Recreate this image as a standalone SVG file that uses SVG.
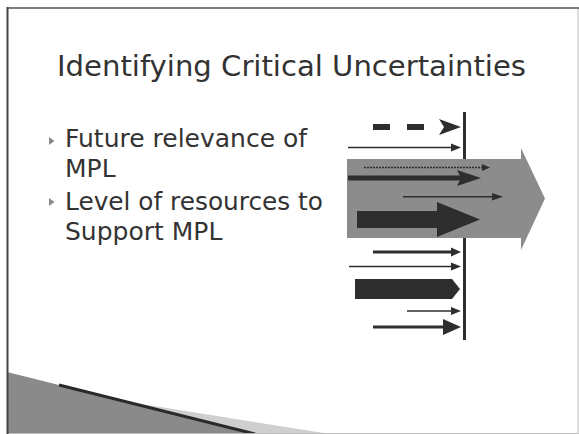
<svg xmlns="http://www.w3.org/2000/svg" width="579" height="434" viewBox="0 0 579 434">
<style>
.t{font-family:"DejaVu Sans","Liberation Sans",sans-serif;fill:#333}
.title{font-size:29px;fill:#333}
.b{font-size:25px}
.dk{fill:#2e2e2e}
.ln{stroke:#2e2e2e;fill:none}
.bul{fill:#8a8a8a}
</style>
<rect width="579" height="434" fill="#fff"/>
<g id="swoosh">
<polygon points="7,372 255,434 7,434" fill="#8a8a8a"/>
<polygon points="110,399 330,434 255,434" fill="#cfcfcf"/>
<line x1="59" y1="385" x2="255" y2="434" stroke="#2a2a2a" stroke-width="3"/>
</g>
<g id="frame">
<line x1="578" y1="8" x2="578" y2="434" stroke="#bbb" stroke-width="1"/>
<line x1="7" y1="433.5" x2="579" y2="433.5" stroke="#bbb" stroke-width="1"/>
<line x1="7" y1="8" x2="579" y2="8" stroke="#555" stroke-width="1.5"/>
<line x1="7.5" y1="7" x2="7.5" y2="434" stroke="#444" stroke-width="2"/>
</g>
<g id="title">
<text class="t title" x="57" y="76" textLength="469" lengthAdjust="spacingAndGlyphs">Identifying Critical Uncertainties</text>
</g>
<g id="bullets">
<polygon class="bul" points="49,137 54.5,141 49,145"/>
<text class="t b" x="65" y="147">Future relevance of</text>
<text class="t b" x="65" y="177">MPL</text>
<polygon class="bul" points="49,198 54.5,202 49,206"/>
<text class="t b" x="65" y="210" textLength="258" lengthAdjust="spacingAndGlyphs">Level of resources to</text>
<text class="t b" x="65" y="240">Support MPL</text>
</g>
<g id="arrows">
<line class="ln" x1="464.5" y1="112" x2="464.5" y2="340" stroke-width="3"/>
<rect class="dk" x="373" y="124" width="17" height="6"/>
<rect class="dk" x="407" y="124" width="17" height="6"/>
<polygon class="dk" points="439,119 461,127 439,135 444,127"/>
<line class="ln" x1="348" y1="147.5" x2="453" y2="147.5" stroke-width="1.5"/>
<polygon class="dk" points="451,143.5 461,147.5 451,151.5"/>
<polygon points="347,159 521,159 521,148 545,198.5 521,250 521,238 347,238" fill="#8c8c8c"/>
<line class="ln" x1="364" y1="167.5" x2="484" y2="167.5" stroke-width="1.5" stroke-dasharray="2 1"/>
<polygon class="dk" points="482,164 490,167.5 482,171"/>
<line class="ln" x1="348" y1="178" x2="461" y2="178" stroke-width="5"/>
<polygon class="dk" points="457,170 481,178 457,186 461,178"/>
<line class="ln" x1="403" y1="196.7" x2="494" y2="196.7" stroke-width="1.5"/>
<polygon class="dk" points="492,193 503,196.7 492,200.5"/>
<polygon class="dk" points="357,211 437,211 437,202 480,219.5 437,237 437,228 357,228"/>
<line class="ln" x1="373" y1="252" x2="453" y2="252" stroke-width="3"/>
<polygon class="dk" points="451,247.5 461,252 451,256.5"/>
<line class="ln" x1="349" y1="266.5" x2="453" y2="266.5" stroke-width="1.5"/>
<polygon class="dk" points="451,262.5 461,266.5 451,270.5"/>
<polygon class="dk" points="355,279 452,279 460,289 452,299 355,299"/>
<line class="ln" x1="407" y1="311" x2="453" y2="311" stroke-width="1.5"/>
<polygon class="dk" points="451,307 461,311 451,315"/>
<line class="ln" x1="373" y1="327" x2="447" y2="327" stroke-width="3"/>
<polygon class="dk" points="443,319 461,327 443,335"/>
</g>
</svg>
